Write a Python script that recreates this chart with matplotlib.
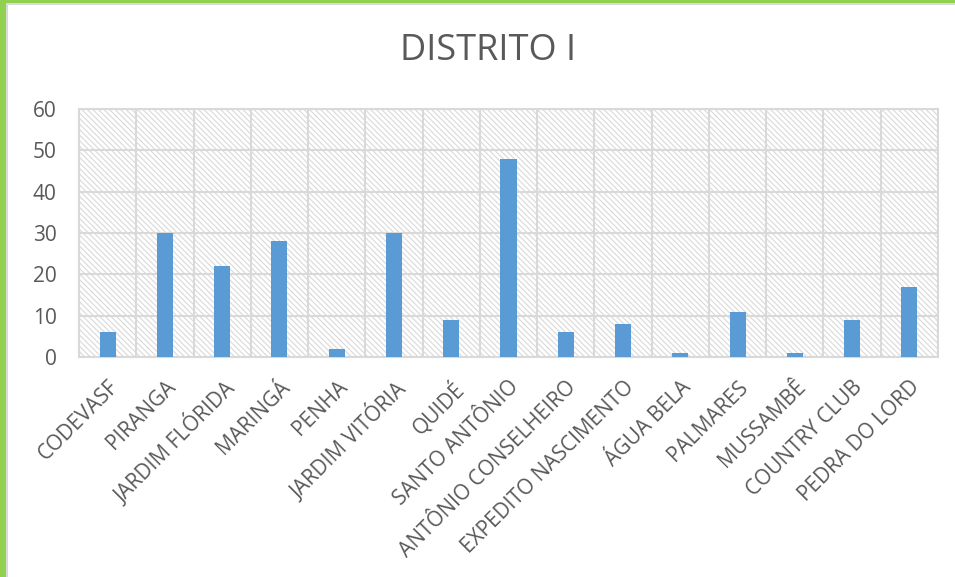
import matplotlib
matplotlib.use("Agg")
import matplotlib.pyplot as plt
from matplotlib.patches import Rectangle
import numpy as np

plt.rcParams['hatch.color'] = '#d9d9d9'
plt.rcParams['hatch.linewidth'] = 0.8
plt.rcParams['font.family'] = ['Open Sans', 'DejaVu Sans']

categories = ["CODEVASF", "PIRANGA", "JARDIM FLÓRIDA", "MARINGÁ", "PENHA",
              "JARDIM VITÓRIA", "QUIDÉ", "SANTO ANTÔNIO", "ANTÔNIO CONSELHEIRO",
              "EXPEDITO NASCIMENTO", "ÁGUA BELA", "PALMARES", "MUSSAMBÊ",
              "COUNTRY CLUB", "PEDRA DO LORD"]
values = [6, 30, 22, 28, 2, 30, 9, 48, 6, 8, 1, 11, 1, 9, 17]
yticks = [0, 10, 20, 30, 40, 50, 60]
title = "DISTRITO I"

W, H = 955, 577
fig = plt.figure(figsize=(W/100, H/100), dpi=100)

# frame: green borders at top and left, gray inner line
fig.patches.append(Rectangle((0, 1 - 3/H), 1, 3/H, transform=fig.transFigure,
                             facecolor='#92d050', edgecolor='none', zorder=0))
fig.patches.append(Rectangle((0, 0), 6/W, 1, transform=fig.transFigure,
                             facecolor='#92d050', edgecolor='none', zorder=0))
fig.patches.append(Rectangle((6/W, 1 - 5/H), 1, 2/H, transform=fig.transFigure,
                             facecolor='#d9d9d9', edgecolor='none', zorder=0))
fig.patches.append(Rectangle((6/W, 0), 1.5/W, 1 - 3/H, transform=fig.transFigure,
                             facecolor='#d9d9d9', edgecolor='none', zorder=0))

ax = fig.add_axes([79/W, 1 - 357/H, (938 - 79)/W, (357 - 109)/H])
n = len(categories)
x = np.arange(n)
ax.set_xlim(-0.5, n - 0.5)
ax.set_ylim(0, 60)

# hatched background
ax.add_patch(Rectangle((-0.5, 0), n, 60, facecolor='white', edgecolor='#d9d9d9',
                       linewidth=0, hatch='\\' * 6, zorder=0))

for yv in yticks:
    ax.axhline(yv, color='#d9d9d9', lw=1.5, zorder=1)
for xv in np.arange(-0.5, n, 1):
    ax.axvline(xv, color='#d9d9d9', lw=1.5, zorder=1)

ax.bar(x, values, width=0.28, color='#5b9bd5', zorder=3)

for s in ax.spines.values():
    s.set_color('#d9d9d9')
    s.set_linewidth(1.5)

ax.set_yticks(yticks)
ax.set_yticklabels([str(v) for v in yticks], fontsize=15, color='#595959')
ax.set_xticks(x)
ax.set_xticklabels(categories, rotation=45, ha='right', rotation_mode='anchor',
                   fontsize=15, color='#595959')
ax.tick_params(axis='y', length=0, pad=16)
ax.tick_params(axis='x', length=0, pad=14)

fig.text(488/W, 1 - 51.5/H, title, ha='center', va='center', fontsize=26,
         color='#595959')

fig.savefig("out.png", dpi=100)
